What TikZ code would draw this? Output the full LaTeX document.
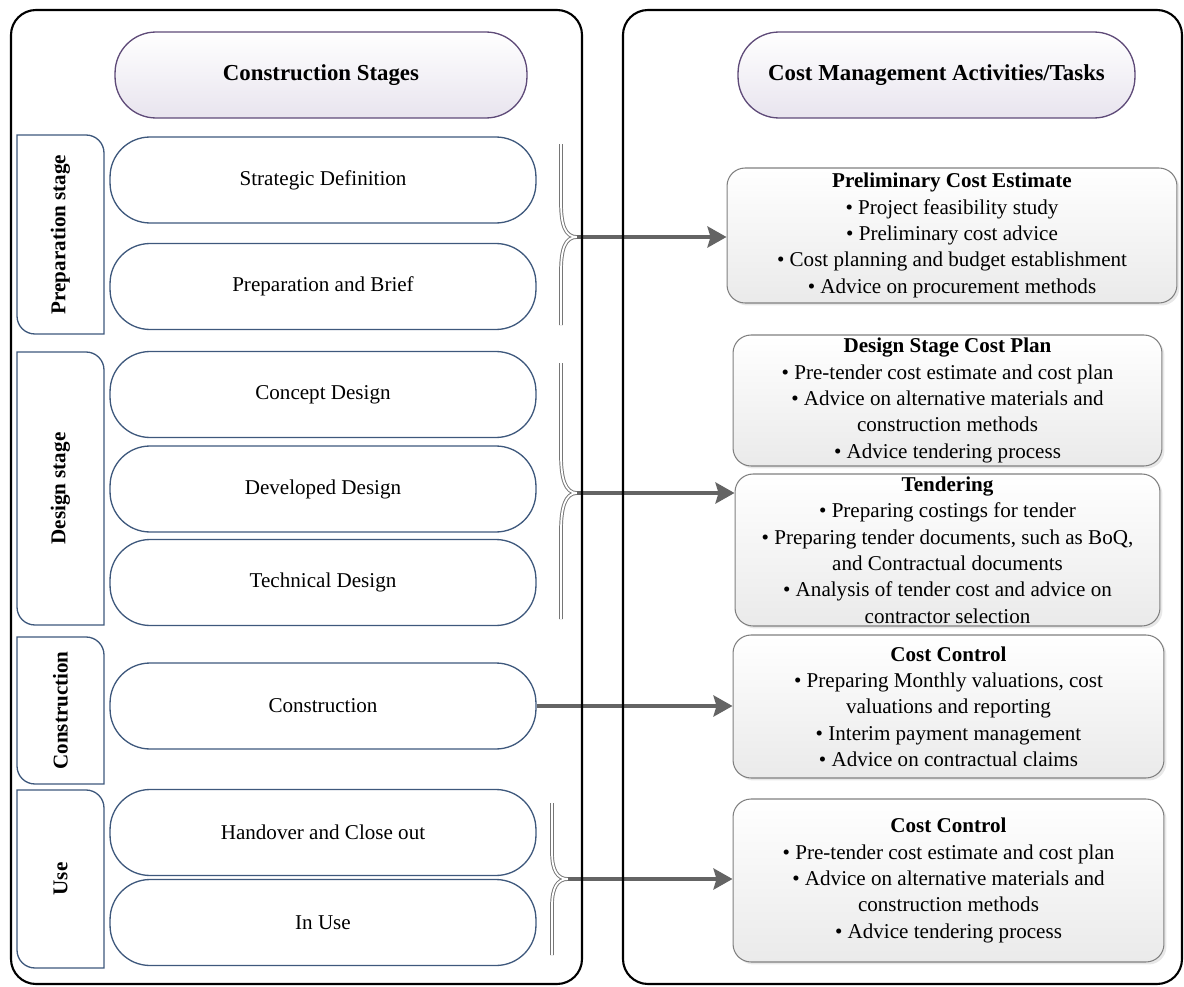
\documentclass[tikz,border=0pt]{standalone}
\usepackage{fontspec}
\setmainfont{Liberation Serif}
\usepackage{xcolor}
\usepackage{tikz}
\usetikzlibrary{arrows.meta,calc,shadows}

\definecolor{pillblue}{RGB}{62,88,124}
\definecolor{headpurple}{RGB}{94,74,120}
\definecolor{headfill}{RGB}{232,228,238}
\definecolor{boxgray}{RGB}{128,128,128}
\definecolor{boxfill}{RGB}{234,234,234}
\definecolor{arrowgray}{RGB}{100,100,100}
\definecolor{bracegray}{RGB}{118,118,118}

\begin{document}
\begin{tikzpicture}[x=0.02cm,y=-0.02cm,
  every node/.style={font=\fontsize{12}{15}\selectfont,text=black},
  stagepill/.style={draw=pillblue,line width=0.75pt,rounded corners=0.8cm,
    minimum width=8.52cm,minimum height=1.72cm},
  headpill/.style={draw=headpurple,line width=0.75pt,rounded corners=0.82cm,
    minimum height=1.72cm,top color=white,bottom color=headfill,
    font=\bfseries\fontsize{13}{15}\selectfont},
  sidelabel/.style={rotate=90,font=\bfseries\fontsize{12}{14}\selectfont},
  sidebox/.style={draw=pillblue,line width=0.75pt},
  taskbox/.style={draw=boxgray,line width=0.6pt,rounded corners=0.36cm,
    top color=white,bottom color=boxfill,align=center,inner sep=0pt,
    drop shadow={opacity=0.18,shadow xshift=0.05cm,shadow yshift=-0.05cm}},
  brace/.style={draw=bracegray,double=white,double distance=1pt,line width=0.55pt},
  feed/.style={draw=arrowgray,line width=2.2pt,
    -{Stealth[length=0.38cm,width=0.42cm,inset=0.06cm]}},
  frame/.style={draw=black,line width=1.2pt,rounded corners=0.5cm}]
  \useasboundingbox (0,0) rectangle (1184,987);

  % headings
  \node[headpill,minimum width=8.24cm] (stagehead) at (321,75) {Construction Stages};
  \node[headpill,minimum width=7.94cm] (taskhead) at (936.5,75) {Cost Management Activities/Tasks};

  % stage groups on the left
  \draw[sidebox] (17,135) -- (86,135) .. controls (96,135) and (104,143) .. (104,153)
        -- (104,334) -- (35,334) .. controls (25,334) and (17,326) .. (17,316) -- cycle;
  \draw[sidebox] (17,352) -- (86,352) .. controls (96,352) and (104,360) .. (104,370)
        -- (104,625) -- (35,625) .. controls (25,625) and (17,617) .. (17,607) -- cycle;
  \draw[sidebox] (17,637) -- (86,637) .. controls (96,637) and (104,645) .. (104,655)
        -- (104,784) -- (35,784) .. controls (25,784) and (17,776) .. (17,766) -- cycle;
  \draw[sidebox] (17,790) -- (86,790) .. controls (96,790) and (104,798) .. (104,808)
        -- (104,968) -- (35,968) .. controls (25,968) and (17,960) .. (17,950) -- cycle;
  \node[sidelabel] (preplbl) at (60.5,234.5) {Preparation stage};
  \node[sidelabel] (designlbl) at (60.5,488.5) {Design stage};
  \node[sidelabel] (constrlbl) at (60.5,710.5) {Construction};
  \node[sidelabel] (uselbl) at (60.5,879) {Use};

  % stages
  \node[stagepill] (strategic) at (323,180) {Strategic Definition};
  \node[stagepill] (brief) at (323,286.5) {Preparation and Brief};
  \node[stagepill] (concept) at (323,394.5) {Concept Design};
  \node[stagepill] (developed) at (323,489) {Developed Design};
  \node[stagepill] (technical) at (323,582.5) {Technical Design};
  \node[stagepill] (constr) at (323,706) {Construction};
  \node[stagepill] (handover) at (323,832.5) {Handover and Close out};
  \node[stagepill] (inuse) at (323,922.5) {In Use};

  % cost management tasks
  \node[taskbox,minimum width=9cm,minimum height=2.7cm] (prelim) at (952,235.5)
    {\textbf{Preliminary Cost Estimate}\\
     \textbullet{} Project feasibility study\\
     \textbullet{} Preliminary cost advice\\
     \textbullet{} Cost planning and budget establishment\\
     \textbullet{} Advice on procurement methods};
  \node[taskbox,minimum width=8.58cm,minimum height=2.62cm] (costplan) at (947.5,400.5)
    {\textbf{Design Stage Cost Plan}\\
     \textbullet{} Pre-tender cost estimate and cost plan\\
     \textbullet{} Advice on alternative materials and\\
     construction methods\\
     \textbullet{} Advice tendering process};
  \node[taskbox,minimum width=8.5cm,minimum height=3.04cm] (tender) at (947.5,550)
    {\textbf{Tendering}\\
     \textbullet{} Preparing costings for tender\\
     \textbullet{} Preparing tender documents, such as BoQ,\\
     and Contractual documents\\
     \textbullet{} Analysis of tender cost and advice on\\
     contractor selection};
  \node[taskbox,minimum width=8.62cm,minimum height=2.86cm] (control) at (948.5,706.5)
    {\textbf{Cost Control}\\
     \textbullet{} Preparing Monthly valuations, cost\\
     valuations and reporting\\
     \textbullet{} Interim payment management\\
     \textbullet{} Advice on contractual claims};
  \node[taskbox,minimum width=8.62cm,minimum height=3.26cm] (usecontrol) at (948.5,880.5)
    {\textbf{Cost Control}\\
     \textbullet{} Pre-tender cost estimate and cost plan\\
     \textbullet{} Advice on alternative materials and\\
     construction methods\\
     \textbullet{} Advice tendering process};

  % braces
  \coordinate (preptip) at (577,237);
  \coordinate (designtip) at (577,493);
  \coordinate (usetip) at (568,879);
  \draw[brace] (561,144) -- (561,202) .. controls (561,225) and (565,237) .. (preptip)
        .. controls (565,237) and (561,249) .. (561,272) -- (561,325);
  \draw[brace] (561,363) -- (561,455) .. controls (561,478) and (565,493) .. (designtip)
        .. controls (565,493) and (561,508) .. (561,531) -- (561,619);
  \draw[brace] (552,803) -- (552,852) .. controls (552,870) and (557,879) .. (usetip)
        .. controls (557,879) and (552,888) .. (552,906) -- (552,955);

  % arrows
  \draw[feed] (preptip) -- (preptip -| prelim.west);
  \draw[feed] (designtip) -- (designtip -| tender.west);
  \draw[feed] (constr.east) -- (constr.east -| control.west);
  \draw[feed] (usetip) -- (usetip -| usecontrol.west);

  % outer frames
  \draw[frame] (11,10) rectangle (582,984);
  \draw[frame] (623,10) rectangle (1182,984);
\end{tikzpicture}
\end{document}
